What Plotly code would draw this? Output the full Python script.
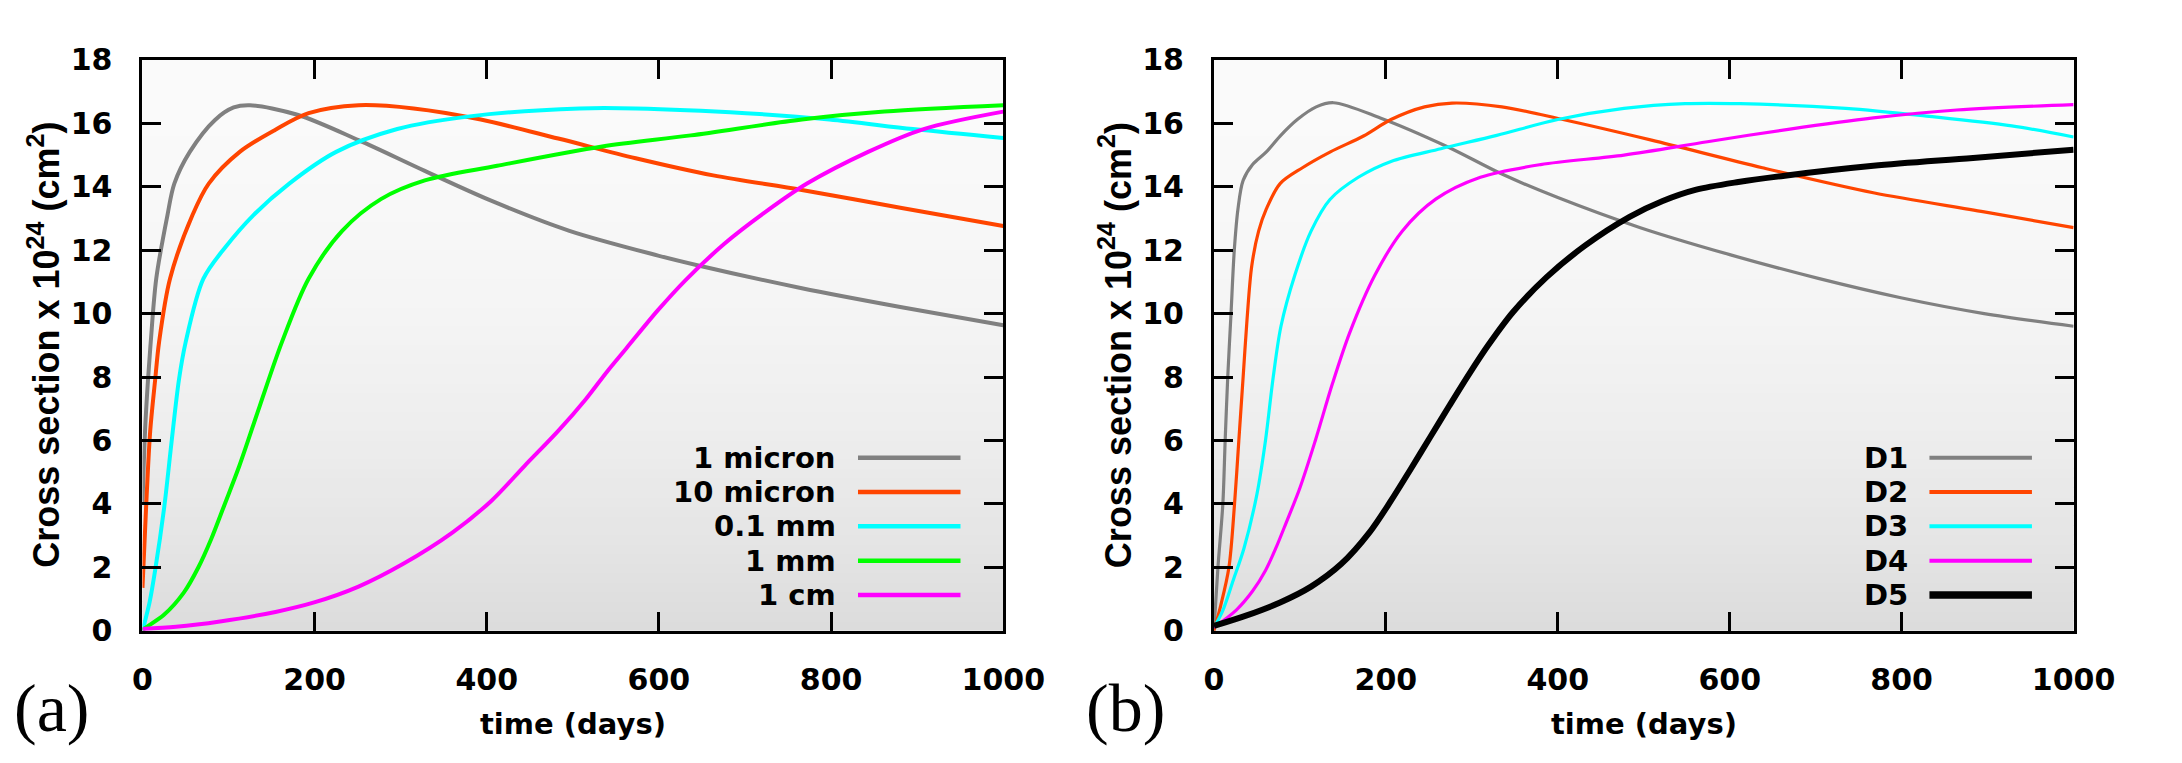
import plotly.graph_objects as go

# ---------------- data ----------------
# panel (a): grain sizes
a_1micron_x = [0, 3, 6.4, 9.6, 16, 29, 37, 55, 84, 106, 125, 180, 251, 328, 405, 496, 599, 647, 766, 882, 1000]
a_1micron_y = [4.0, 6.3, 7.9, 9.1, 11.1, 13.1, 14.1, 15.1, 16.1, 16.5, 16.57, 16.27, 15.47, 14.5, 13.56, 12.61, 11.83, 11.51, 10.8, 10.2, 9.63]

a_10micron_x = [0, 4.4, 9, 14.7, 19.3, 32, 58, 77, 113, 154.5, 193, 251, 315, 393, 483, 573, 663, 766, 882, 1000]
a_10micron_y = [1.35, 4.0, 6.3, 7.9, 9.1, 11.1, 13.1, 14.1, 15.1, 15.8, 16.32, 16.57, 16.47, 16.12, 15.52, 14.9, 14.36, 13.9, 13.33, 12.76]

a_01mm_x = [0, 2, 8.3, 14.7, 25.3, 33.6, 42.3, 50.2, 70.8, 96.5, 128.7, 170.5, 225, 296, 380, 508, 573, 701, 798, 895, 1000]
a_01mm_y = [0, 0.2, 0.9, 1.9, 3.9, 5.9, 7.9, 9.1, 11.1, 12.1, 13.1, 14.1, 15.1, 15.82, 16.22, 16.47, 16.47, 16.32, 16.12, 15.82, 15.54]

a_1mm_x = [0, 3, 25, 48, 65, 80, 95, 112.6, 136.4, 162, 193, 232, 277, 328, 412, 534, 637, 766, 862, 1000]
a_1mm_y = [0, 0.08, 0.5, 1.2, 2.0, 2.9, 3.95, 5.2, 7.1, 9.1, 11.1, 12.61, 13.61, 14.2, 14.66, 15.27, 15.62, 16.12, 16.37, 16.57]

a_1cm_x = [0, 39, 90, 154.5, 199.5, 251, 302.5, 360.4, 405.5, 444, 483, 515, 540.6, 562, 598.6, 630.7, 676, 721, 772, 843, 907.5, 1000]
a_1cm_y = [0.05, 0.12, 0.29, 0.59, 0.89, 1.39, 2.1, 3.1, 4.1, 5.2, 6.3, 7.3, 8.2, 8.9, 10.1, 11.05, 12.2, 13.15, 14.1, 15.1, 15.82, 16.37]

# panel (b): D1..D5
b_d1_x = [0, 4.7, 10.4, 13.1, 16.1, 19.9, 23.7, 28, 34, 45, 61, 77, 97, 119, 139, 193.5, 271, 335, 400, 496, 600, 703, 799, 896, 1000]
b_d1_y = [0, 2, 4, 6, 8, 10, 12, 13.3, 14.2, 14.7, 15.1, 15.6, 16.12, 16.52, 16.65, 16.17, 15.27, 14.4, 13.66, 12.71, 11.86, 11.11, 10.5, 10.0, 9.6]

b_d2_x = [0, 8, 17.5, 24, 29, 34, 38.5, 44, 52, 61, 77, 103, 135.5, 174, 206, 245, 277, 335, 406, 509, 638, 767, 896, 1000]
b_d2_y = [0, 0.8, 2, 4, 6, 8, 9.8, 11.5, 12.6, 13.3, 14.1, 14.6, 15.1, 15.6, 16.12, 16.52, 16.64, 16.52, 16.12, 15.47, 14.6, 13.81, 13.21, 12.71]

b_d3_x = [0, 9.8, 22.6, 35, 50, 60, 69, 78, 94, 113, 135, 168, 206, 264, 329, 400, 477, 548, 612, 735, 832, 928, 1000]
b_d3_y = [0.1, 0.6, 1.6, 2.6, 4.3, 6, 8, 9.6, 11.2, 12.6, 13.6, 14.3, 14.8, 15.2, 15.62, 16.12, 16.47, 16.62, 16.62, 16.47, 16.22, 15.92, 15.57]

b_d4_x = [0, 26, 45, 60, 72, 84, 100, 118, 138, 158, 187, 219, 258, 310, 380, 477, 574, 670, 767, 864, 1000]
b_d4_y = [0.1, 0.65, 1.25, 1.9, 2.6, 3.4, 4.5, 6.0, 7.8, 9.4, 11.2, 12.6, 13.61, 14.3, 14.7, 15.0, 15.42, 15.82, 16.17, 16.42, 16.59]

b_d5_x = [0, 39, 77, 113, 148, 181, 206, 229, 251.5, 274, 297, 319, 348, 387, 432, 483.5, 522, 560, 610, 664, 767, 883, 1000]
b_d5_y = [0.15, 0.49, 0.89, 1.39, 2.1, 3.1, 4.1, 5.1, 6.1, 7.1, 8.1, 9.0, 10.05, 11.15, 12.15, 13.05, 13.55, 13.9, 14.15, 14.35, 14.66, 14.91, 15.17]

a_labels = ["1 micron", "10 micron", "0.1 mm", "1 mm", "1 cm"]
b_labels = ["D1", "D2", "D3", "D4", "D5"]
x_ticks = [0, 200, 400, 600, 800, 1000]
y_ticks = [0, 2, 4, 6, 8, 10, 12, 14, 16, 18]

# ---------------- styles ----------------
W, H = 2182, 763
GRAY, ORANGE, CYAN, GREEN, MAGENTA, BLACK = "#808080", "#ff4500", "#00ffff", "#00ff00", "#ff00ff", "#000000"
a_colors = [GRAY, ORANGE, CYAN, GREEN, MAGENTA]
b_colors = [GRAY, ORANGE, CYAN, MAGENTA, BLACK]
a_widths = [4, 4, 4, 4, 4]
b_widths = [3.2, 3.2, 3.2, 3.2, 6]
b_leg_widths = [4, 4, 4, 4, 7.5]

FONT = "DejaVu Sans"
TICKFONT = dict(family=FONT, size=30, color="black", weight="bold")

# panel pixel frames
A_L, A_R = 135.7, 1017.5
B_L, B_R = 1233.3, 2114.0
P_T, P_B = 44.0, 643.0

fig = go.Figure()

a_series = [(a_1micron_x, a_1micron_y), (a_10micron_x, a_10micron_y), (a_01mm_x, a_01mm_y),
            (a_1mm_x, a_1mm_y), (a_1cm_x, a_1cm_y)]
b_series = [(b_d1_x, b_d1_y), (b_d2_x, b_d2_y), (b_d3_x, b_d3_y), (b_d4_x, b_d4_y), (b_d5_x, b_d5_y)]

for (xs, ys), name, col, w in zip(a_series, a_labels, a_colors, a_widths):
    fig.add_trace(go.Scatter(x=xs, y=ys, mode="lines", name=name, showlegend=False,
                             line=dict(color=col, width=w, shape="spline", smoothing=0.9),
                             xaxis="x", yaxis="y"))
for (xs, ys), name, col, w in zip(b_series, b_labels, b_colors, b_widths):
    fig.add_trace(go.Scatter(x=xs, y=ys, mode="lines", name=name, showlegend=False,
                             line=dict(color=col, width=w, shape="spline", smoothing=0.9),
                             xaxis="x2", yaxis="y2"))

def px(x):
    return x / W

def py(y):
    return 1 - y / H

axis_common = dict(showgrid=False, zeroline=False, showline=True, linewidth=3, linecolor="black",
                   mirror="ticks", ticks="inside", ticklen=19, tickwidth=3, tickcolor="black",
                   tickfont=TICKFONT)

fig.update_layout(
    width=W, height=H, margin=dict(l=0, r=0, t=0, b=0),
    paper_bgcolor="white", plot_bgcolor="white", showlegend=False,
    xaxis=dict(domain=[px(A_L), px(A_R)], range=[0, 1000], tickvals=x_ticks, anchor="y",
               ticklabelstandoff=20, **axis_common),
    yaxis=dict(domain=[py(P_B), py(P_T)], range=[0, 18], tickvals=y_ticks, anchor="x",
               ticklabelstandoff=21, **axis_common),
    xaxis2=dict(domain=[px(B_L), px(B_R)], range=[0, 1000], tickvals=x_ticks, anchor="y2",
                ticklabelstandoff=20, **axis_common),
    yaxis2=dict(domain=[py(P_B), py(P_T)], range=[0, 18], tickvals=y_ticks, anchor="x2",
                ticklabelstandoff=21, **axis_common),
)

# gradient background in both panels
shapes = []
N = 60
for xr, yr in (("x domain", "y domain"), ("x2 domain", "y2 domain")):
    for i in range(N):
        t = 1 - (i + 0.5) / N  # 0 at top, 1 at bottom
        lev = int(round(250 - 30 * t ** 2))
        shapes.append(dict(type="rect", xref=xr, yref=yr, x0=0, x1=1, y0=i / N, y1=(i + 1) / N + 0.002,
                           fillcolor=f"rgb({lev},{lev},{lev})", line=dict(width=0), layer="below"))

# manual legends
annotations = []
rows_y = [461.5, 497.5, 533.5, 569.5, 605.5]
for left, labels, colors, widths in ((A_L, a_labels, a_colors, [4.5] * 5), (B_L, b_labels, b_colors, b_leg_widths)):
    for lab, col, w, ry in zip(labels, colors, widths, rows_y):
        annotations.append(dict(text=lab, x=px(left + 713), y=py(ry), xref="paper", yref="paper",
                                xanchor="right", yanchor="middle", showarrow=False,
                                font=dict(family=FONT, size=29, color="black", weight="bold")))
        shapes.append(dict(type="line", xref="paper", yref="paper", x0=px(left + 733), x1=px(left + 838),
                           y0=py(ry), y1=py(ry), line=dict(color=col, width=w)))

# axis titles and panel labels
for left, right, tag, tagx in ((A_L, A_R, "(a)", 43), (B_L, B_R, "(b)", 1143)):
    annotations.append(dict(text="time (days)", x=px((left + right) / 2), y=py(741), xref="paper", yref="paper",
                            xanchor="center", yanchor="middle", showarrow=False,
                            font=dict(family=FONT, size=29, color="black", weight="bold")))
    annotations.append(dict(text="Cross section x 10<sup>24</sup> (cm<sup>2</sup>)",
                            x=px(left - 101), y=py(343), xref="paper", yref="paper",
                            xanchor="center", yanchor="middle", textangle=-90, showarrow=False,
                            font=dict(family="Liberation Sans", size=36, color="black", weight="bold")))
    annotations.append(dict(text=tag, x=px(tagx), y=py(724), xref="paper", yref="paper",
                            xanchor="center", yanchor="middle", showarrow=False,
                            font=dict(family="Liberation Serif", size=68, color="black")))

fig.update_layout(shapes=shapes, annotations=annotations)
fig.write_html("out.html")
